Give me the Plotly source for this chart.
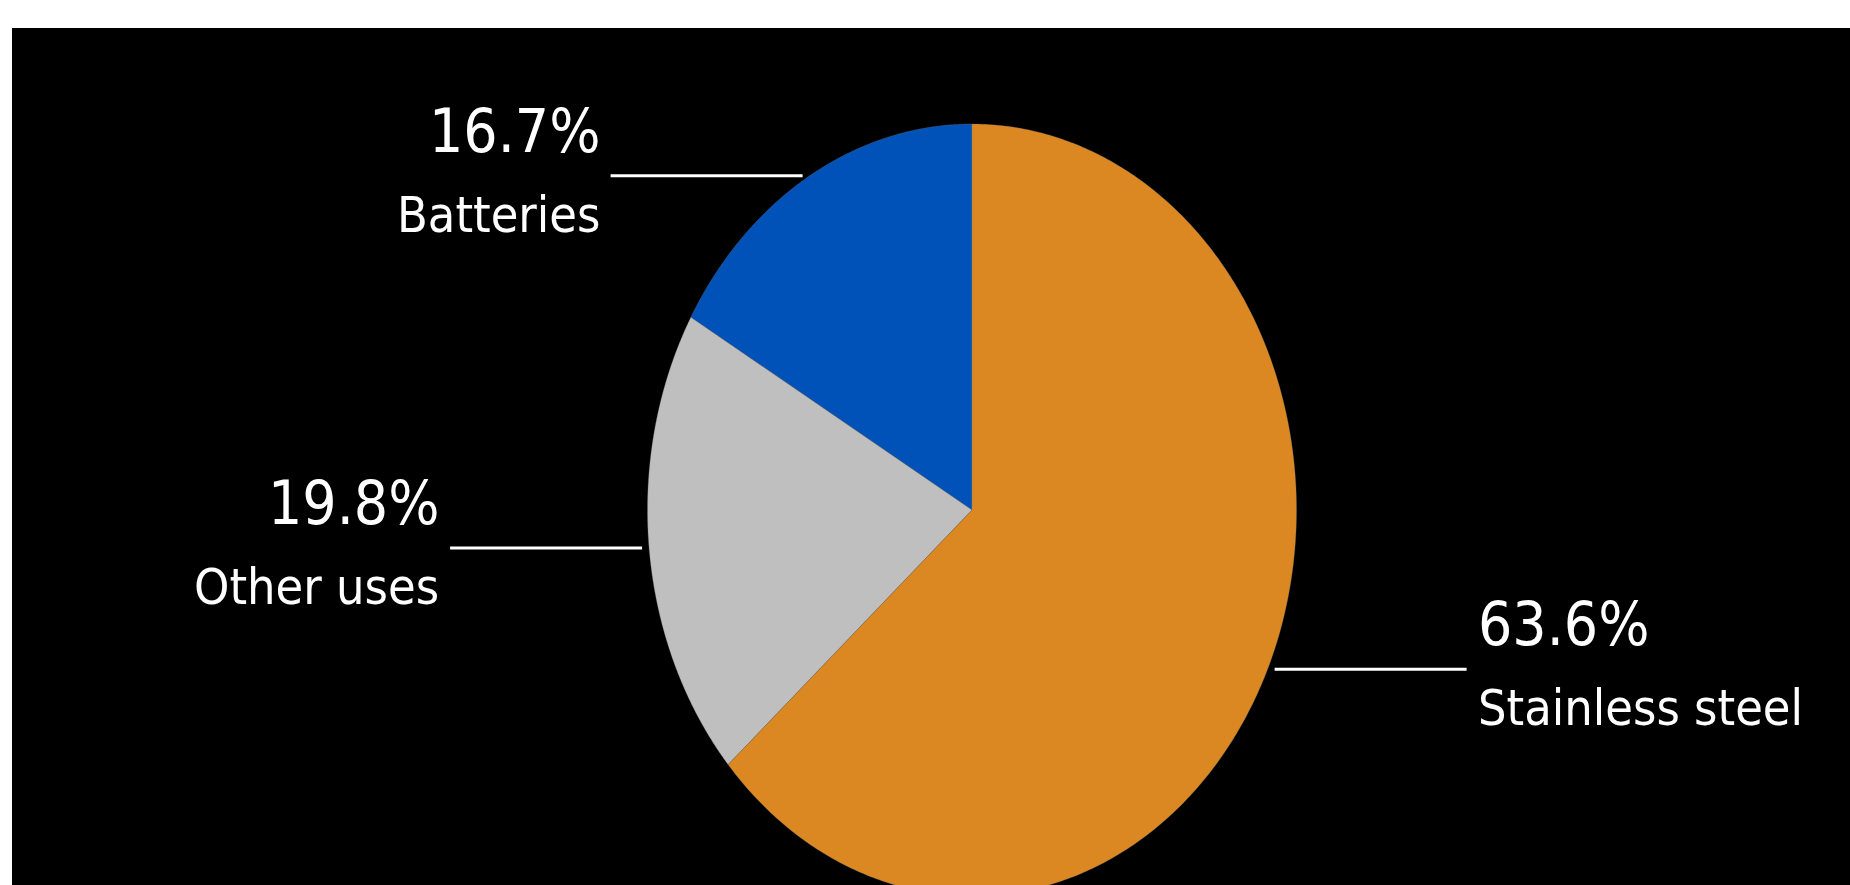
import numpy as np
import plotly.graph_objects as go

# ---- data ----
categories = ["Batteries", "Other uses", "Stainless steel"]
shares = [16.7, 19.8, 63.6]
share_labels = ["16.7%", "19.8%", "63.6%"]

# ---- style ----
colors = ["#0052b8", "#bfbfbf", "#db8823"]
FONT = "Liberation Sans Narrow, DejaVu Sans Condensed, Arial Narrow, Roboto, sans-serif"
W, H = 1850, 885
ML, MT = 12, 28
CX, CY = 972, 510          # pie centre in page pixels
RX, RY = 324.5, 386.0      # pie radii in pixels (stretched pie)
line_len_px = 192
gap_px = 7
text_gap_px = 9

x_range = [-(CX - ML) / RX, (W - CX) / RX]
y_range = [-(H - CY) / RY, (CY - MT) / RY]

fig = go.Figure()

total = sum(shares)
cum = 0.0
for name, val, col, lab in zip(categories, shares, colors, share_labels):
    a0 = np.pi / 2 + 2 * np.pi * cum / total
    a1 = np.pi / 2 + 2 * np.pi * (cum + val) / total
    t = np.linspace(a0, a1, 400)
    xs = np.concatenate([[0], np.cos(t), [0]])
    ys = np.concatenate([[0], np.sin(t), [0]])
    fig.add_trace(go.Scatter(x=xs, y=ys, mode="lines", fill="toself",
                             fillcolor=col,
                             line=dict(color="rgba(120,120,120,0.5)", width=0.6, simplify=False),
                             hoverinfo="skip", showlegend=False))
    am = (a0 + a1) / 2
    ex, ey = np.cos(am), np.sin(am)
    side = 1 if ex > 0 else -1
    x_start = ex + side * gap_px / RX
    x_end = x_start + side * line_len_px / RX
    fig.add_trace(go.Scatter(x=[x_start, x_end], y=[ey, ey], mode="lines",
                             line=dict(color="white", width=3),
                             hoverinfo="skip", showlegend=False))
    tx = x_end + side * text_gap_px / RX
    anchor = "left" if side > 0 else "right"
    fig.add_annotation(x=tx, y=ey, xref="x", yref="y", text=lab, showarrow=False,
                       xanchor=anchor, yanchor="bottom", yshift=8,
                       font=dict(family=FONT, size=60, color="white"))
    fig.add_annotation(x=tx, y=ey, xref="x", yref="y", text=name, showarrow=False,
                       xanchor=anchor, yanchor="top", yshift=-8,
                       font=dict(family=FONT, size=50, color="white"))
    cum += val

fig.update_layout(
    width=W, height=H,
    margin=dict(l=ML, r=0, t=MT, b=0, pad=0),
    paper_bgcolor="white", plot_bgcolor="black",
    xaxis=dict(range=x_range, visible=False, fixedrange=True),
    yaxis=dict(range=y_range, visible=False, fixedrange=True),
    showlegend=False,
)
fig.write_html("out.html")
